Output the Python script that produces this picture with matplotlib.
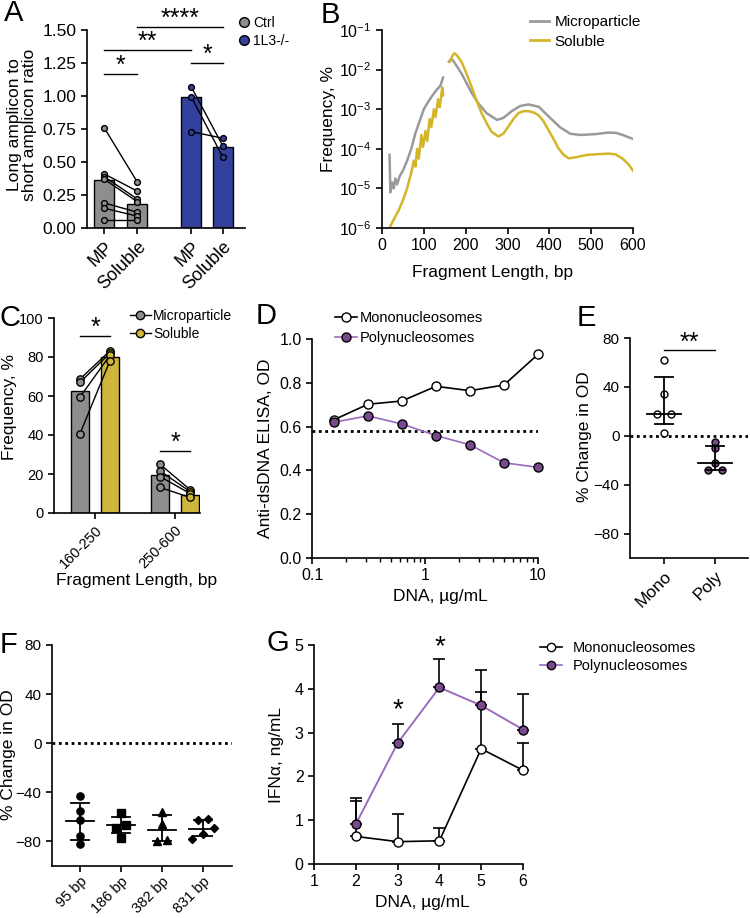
import numpy as np
import matplotlib.pyplot as plt
from matplotlib.lines import Line2D
from matplotlib.ticker import FormatStrFormatter, LogLocator, NullFormatter, NullLocator

plt.rcParams['font.family'] = ['Liberation Sans', 'DejaVu Sans']
plt.rcParams['font.size'] = 11
plt.rcParams['axes.linewidth'] = 1.2
plt.rcParams['xtick.major.width'] = 1.2
plt.rcParams['ytick.major.width'] = 1.2
plt.rcParams['xtick.major.size'] = 4
plt.rcParams['ytick.major.size'] = 4
plt.rcParams['xtick.labelsize'] = 11
plt.rcParams['ytick.labelsize'] = 11
plt.rcParams['mathtext.default'] = 'regular'

#colours
gray = '#8e8e8e'
blue = '#33409c'
yellow = '#cfb53b'
bgray = '#9a9a9a'
byellow = '#d4b52a'
purple = '#7a4a8f'
purple_line = '#9b6bbf'

# ---- A: long/short amplicon ratio ----
a_labels = ['MP', 'Soluble', 'MP', 'Soluble']
a_bar = [0.36, 0.18, 0.995, 0.615]
a_ctrl_mp = [0.76, 0.41, 0.39, 0.37, 0.19, 0.15, 0.06]
a_ctrl_sol = [0.35, 0.28, 0.22, 0.20, 0.12, 0.09, 0.06]
a_ko_mp = [1.07, 0.995, 0.73]
a_ko_sol = [0.62, 0.535, 0.68]

# ---- B: fragment length distribution (log10 of frequency) ----
b_mp_bp = [18, 20, 24, 28, 32, 36, 42, 50, 60, 70, 80, 90, 100, 110, 120, 130, 140, 146, np.nan,
           160, 166, 175, 190, 200, 215, 230, 250, 275, 290, 310, 330, 350, 375, 400, 425, 450,
           475, 510, 540, 560, 575, 600]
b_mp_log = [-4.15, -5.1, -4.85, -5.0, -4.75, -4.9, -4.7, -4.55, -4.3, -4.0, -3.6, -3.3, -3.0, -2.82,
            -2.66, -2.52, -2.4, -2.2, np.nan,
            -1.80, -1.72, -1.85, -2.10, -2.3, -2.6, -2.85, -3.1, -3.27, -3.22, -3.05, -2.92, -2.88,
            -2.94, -3.2, -3.45, -3.62, -3.65, -3.63, -3.59, -3.6, -3.65, -3.75]
b_sol_bp = [20, 30, 40, 50, 60, 70, 76, 80, 84, 88, 94, 98, 104, 108, 114, 118, 124, 128, 134, 138,
            144, 146, np.nan,
            162, 170, 174, 180, 190, 200, 214, 226, 238, 250, 262, 278, 290, 302, 314, 326, 338,
            350, 362, 374, 386, 398, 410, 422, 434, 446, 460, 478, 494, 510, 526, 542, 558, 574,
            590, 600]
b_sol_log = [-5.95, -5.75, -5.55, -5.30, -5.0, -4.6, -4.3, -4.45, -4.0, -4.25, -3.65, -3.95, -3.55,
             -3.8, -3.25, -3.45, -3.0, -3.2, -2.75, -2.95, -2.45, -2.65, np.nan,
             -1.80, -1.62, -1.59, -1.65, -1.80, -2.05, -2.43, -2.78, -3.10, -3.35, -3.57, -3.69,
             -3.62, -3.44, -3.25, -3.10, -3.05, -3.05, -3.08, -3.15, -3.3, -3.53, -3.75, -3.99,
             -4.15, -4.24, -4.22, -4.18, -4.15, -4.14, -4.13, -4.12, -4.14, -4.24, -4.4, -4.55]

# ---- C: fraction by size range ----
c_labels = ['160-250', '250-600']
c_mp_bar = [62.5, 19.5]
c_sol_bar = [80, 9]
c_mp_pts = [[68.7, 67, 59.5, 40.7], [25, 21.6, 18.7, 13.1]]
c_sol_pts = [[83.2, 82, 80.9, 78.1], [12, 11, 10, 8]]

# ---- D: anti-dsDNA ELISA ----
d_dna = [0.156, 0.3125, 0.625, 1.25, 2.5, 5, 10]
d_mono = [0.631, 0.702, 0.717, 0.784, 0.764, 0.790, 0.93]
d_poly = [0.62, 0.649, 0.612, 0.559, 0.517, 0.435, 0.414]
d_cutoff = 0.58

# ---- E: % change in OD ----
e_labels = ['Mono', 'Poly']
e_mono = [62, 34, 18, 18, 2]
e_poly = [-5, -10, -22, -28, -28]
e_center = [18, -22]
e_lo = [10, -28]
e_hi = [48, -8]

# ---- F: % change in OD by fragment ----
f_labels = ['95 bp', '186 bp', '382 bp', '831 bp']
f_vals = [[-42.7, -55.2, -62.9, -75.6, -81.9],
          [-56.6, -67, -68.8, -77.3],
          [-56, -65.6, -79.7, -79.2],
          [-61.5, -62.9, -69, -73.7, -77.8]]
f_center = [-63, -67, -70.5, -70]
f_lo = [-78.6, -73, -80, -75.6]
f_hi = [-49, -60, -58.8, -62.3]
f_markers = ['o', 's', '^', 'D']

# ---- G: IFNa ----
g_dna = [2, 3, 4, 5, 6]
g_mono = [0.63, 0.51, 0.53, 2.63, 2.14]
g_mono_err = [0.81, 0.64, 0.29, 1.30, 0.63]
g_poly = [0.91, 2.76, 4.03, 3.62, 3.07]
g_poly_err = [0.59, 0.43, 0.64, 0.81, 0.81]

W, H = 750, 918
fig = plt.figure(figsize=(W / 100, H / 100), dpi=100)


def box(x0, y0, x1, y1):
    return [x0 / W, 1 - y1 / H, (x1 - x0) / W, (y1 - y0) / H]


def clean(ax):
    ax.spines['top'].set_visible(False)
    ax.spines['right'].set_visible(False)


def ftext(x, y, s, **kw):
    fig.text(x / W, 1 - y / H, s, **kw)


def bracket(ax, x0, x1, y, s):
    ax.plot([x0, x1], [y, y], color='k', lw=1, clip_on=False)
    ax.annotate(s, ((x0 + x1) / 2, y), xytext=(0, -3), textcoords='offset points',
                ha='center', va='bottom', fontsize=18, annotation_clip=False)


def spread(vals, dy, dx):
    #simple beeswarm: points closer than dy get spread sideways
    vals = np.asarray(vals, dtype=float)
    order = np.argsort(vals)
    offs = np.zeros(len(vals))
    groups = [[order[0]]]
    for i in order[1:]:
        if vals[i] - vals[groups[-1][-1]] < dy:
            groups[-1].append(i)
        else:
            groups.append([i])
    for g in groups:
        for j, i in enumerate(g):
            offs[i] = (j - (len(g) - 1) / 2) * dx
    return offs


def legend(ax, handles, labels, x, y, hl, htp, ls, fs=10):
    ax.legend(handles, labels, loc='center left', bbox_to_anchor=(x / W, 1 - y / H),
              bbox_transform=fig.transFigure, frameon=False, handlelength=hl,
              handletextpad=htp, labelspacing=ls, borderpad=0, borderaxespad=0, fontsize=fs)


#%% A
ax = fig.add_axes(box(87, 30, 245, 228))
a_pos = [0, 1, 2.64, 3.6]
ax.bar(a_pos, a_bar, width=0.6, color=[gray, gray, blue, blue], edgecolor='k', lw=1, zorder=1)
for x0, x1, mp, sol, c in [(a_pos[0], a_pos[1], a_ctrl_mp, a_ctrl_sol, gray),
                           (a_pos[2], a_pos[3], a_ko_mp, a_ko_sol, blue)]:
    for m, s in zip(mp, sol):
        ax.plot([x0, x1], [m, s], color='k', lw=1, marker='o', ms=4.2, mfc=c, mec='k', mew=1, zorder=3)
ax.set_xlim(-0.52, 4.27)
ax.set_ylim(0, 1.5)
ax.set_yticks(np.arange(0, 1.51, 0.25))
ax.yaxis.set_major_formatter(FormatStrFormatter('%.2f'))
ax.set_xticks(a_pos)
ax.set_xticklabels(a_labels, rotation=45, ha='right', rotation_mode='anchor', fontsize=13)
ax.tick_params(axis='y', labelsize=12.5)
clean(ax)
bracket(ax, a_pos[0], a_pos[1], 1.17, '*')
bracket(ax, a_pos[0], a_pos[2], 1.35, '**')
bracket(ax, a_pos[1], a_pos[3], 1.525, '****')
bracket(ax, a_pos[2], a_pos[3], 1.25, '*')
hs = [Line2D([], [], ls='none', marker='o', ms=7, mfc=c, mec='k') for c in (gray, blue)]
legend(ax, hs, ['Ctrl', '1L3-/-'], 238, 32, 0.8, 0.3, 0.3)
ftext(22, 125, 'Long amplicon to\nshort amplicon ratio', rotation=90, ha='center', va='center',
      fontsize=12.5, linespacing=1.0)

#%% B
ax = fig.add_axes(box(382, 30, 633, 228))
ax.plot(b_mp_bp, 10 ** np.array(b_mp_log), color=bgray, lw=1.8)
ax.plot(b_sol_bp, 10 ** np.array(b_sol_log), color=byellow, lw=1.8)
ax.set_yscale('log')
ax.set_ylim(1e-6, 1e-1)
ax.set_xlim(0, 600)
ax.set_xticks(range(0, 601, 100))
ax.set_yticks([1e-6, 1e-5, 1e-4, 1e-3, 1e-2, 1e-1])
ax.yaxis.set_minor_locator(NullLocator())
ax.tick_params(labelsize=11.5)
clean(ax)
hs = [Line2D([], [], color=c, lw=2) for c in (bgray, byellow)]
legend(ax, hs, ['Microparticle', 'Soluble'], 530, 32, 1.25, 0.35, 0.35, fs=11)
ftext(329, 119, 'Frequency, %', rotation=90, ha='center', va='center', fontsize=12.5)
ftext(493, 273, 'Fragment Length, bp', ha='center', va='center', fontsize=12.5)

#%% C
ax = fig.add_axes(box(54, 318, 200, 513))
c_pos = np.array([0, 2.667])
ax.bar(c_pos - 0.5, c_mp_bar, width=0.63, color=gray, edgecolor='k', lw=1, zorder=1)
ax.bar(c_pos + 0.5, c_sol_bar, width=0.63, color=yellow, edgecolor='k', lw=1, zorder=1)
for i, c in enumerate(c_pos):
    for m, s in zip(c_mp_pts[i], c_sol_pts[i]):
        ax.plot([c - 0.5], [m], ls='none', marker='o', ms=5.3, mfc=gray, mec='k', zorder=3)
        ax.plot([c + 0.5], [s], ls='none', marker='o', ms=5.3, mfc=yellow, mec='k', zorder=3)
        ax.plot([c - 0.5, c + 0.5], [m, s], color='k', lw=1, zorder=2)
ax.set_xlim(-1.367, 3.5)
ax.set_ylim(0, 100)
ax.set_yticks(range(0, 101, 20))
ax.set_xticks(c_pos)
ax.set_xticklabels(c_labels, rotation=45, ha='right', rotation_mode='anchor', fontsize=10.5)
ax.tick_params(axis='y', labelsize=10.5)
clean(ax)
bracket(ax, c_pos[0] - 0.5, c_pos[0] + 0.5, 91, '*')
bracket(ax, c_pos[1] - 0.5, c_pos[1] + 0.5, 32, '*')
hs = [Line2D([], [], color='k', lw=1, marker='o', ms=6, mfc=c, mec='k') for c in (gray, yellow)]
legend(ax, hs, ['Microparticle', 'Soluble'], 130, 325, 1.5, 0.15, 0.3)
ftext(10, 407, 'Frequency, %', rotation=90, ha='center', va='center', fontsize=12.5)
ftext(137, 581, 'Fragment Length, bp', ha='center', va='center', fontsize=12.5)

#%% D
ax = fig.add_axes(box(312, 339, 538, 558))
ax.axhline(d_cutoff, color='k', ls=(0, (1, 1.3)), lw=2, zorder=1)
ax.plot(d_dna, d_mono, color='k', lw=1.2, marker='o', ms=6.5, mfc='white', mec='k', clip_on=False, zorder=3)
ax.plot(d_dna, d_poly, color=purple_line, lw=1.2, marker='o', ms=6.5, mfc=purple, mec='k',
        clip_on=False, zorder=3)
ax.set_xscale('log')
ax.set_xlim(0.1, 10)
ax.set_ylim(0, 1.0)
ax.set_yticks(np.arange(0, 1.01, 0.2))
ax.yaxis.set_major_formatter(FormatStrFormatter('%.1f'))
ax.set_xticks([0.1, 1, 10])
ax.set_xticklabels(['0.1', '1', '10'])
ax.xaxis.set_minor_locator(LogLocator(subs=np.arange(2, 10)))
ax.xaxis.set_minor_formatter(NullFormatter())
ax.tick_params(axis='x', which='minor', length=3, width=1)
ax.tick_params(axis='both', which='major', labelsize=11.5)
clean(ax)
hs = [Line2D([], [], color='k', lw=1.2, marker='o', ms=6.5, mfc='white', mec='k'),
      Line2D([], [], color=purple_line, lw=1.2, marker='o', ms=6.5, mfc=purple, mec='k')]
legend(ax, hs, ['Mononucleosomes', 'Polynucleosomes'], 335, 328, 1.5, 0.2, 0.4, fs=10.5)
ftext(266, 448, 'Anti-dsDNA ELISA, OD', rotation=90, ha='center', va='center', fontsize=12.5)
ftext(440, 597, 'DNA, µg/mL', ha='center', va='center', fontsize=12.5)

#%% E
ax = fig.add_axes(box(630, 338, 748, 558))
ax.axhline(0, color='k', ls=(0, (1, 1.3)), lw=2, zorder=1)
for i, (vals, fc) in enumerate([(e_mono, 'white'), (e_poly, purple)]):
    offs = spread(vals, 4.5, 0.26)
    ax.plot(i + offs, vals, ls='none', marker='o', ms=5, mfc=fc, mec='k', zorder=3)
    ax.plot([i - 0.33, i + 0.33], [e_center[i]] * 2, color='k', lw=1.3, zorder=4)
    ax.plot([i, i], [e_lo[i], e_hi[i]], color='k', lw=1.3, zorder=4)
    for v in (e_lo[i], e_hi[i]):
        ax.plot([i - 0.17, i + 0.17], [v, v], color='k', lw=1.3, zorder=4)
ax.set_xlim(-0.667, 1.647)
ax.set_ylim(-100, 80)
ax.set_yticks([-80, -40, 0, 40, 80])
ax.set_xticks([0, 1])
ax.set_xticklabels(e_labels, rotation=45, ha='right', rotation_mode='anchor', fontsize=12.5)
clean(ax)
bracket(ax, 0, 1, 70, '**')
ftext(585, 437, '% Change in OD', rotation=90, ha='center', va='center', fontsize=12.5)

#%% F
ax = fig.add_axes(box(52, 645, 232, 866))
ax.axhline(0, color='k', ls=(0, (1, 1.3)), lw=2, zorder=1)
for i, vals in enumerate(f_vals):
    offs = spread(vals, 5, 0.26)
    ms = 4.3 if f_markers[i] == 'D' else 5.2
    ax.plot(i + offs, vals, ls='none', marker=f_markers[i], ms=ms, color='k', zorder=3)
    ax.plot([i - 0.34, i + 0.34], [f_center[i]] * 2, color='k', lw=1.3, zorder=4)
    ax.plot([i, i], [f_lo[i], f_hi[i]], color='k', lw=1.3, zorder=4)
    for v in (f_lo[i], f_hi[i]):
        ax.plot([i - 0.21, i + 0.21], [v, v], color='k', lw=1.3, zorder=4)
ax.set_xlim(-0.683, 3.707)
ax.set_ylim(-100, 80)
ax.set_yticks([-80, -40, 0, 40, 80])
ax.set_xticks(range(len(f_labels)))
ax.set_xticklabels(f_labels, rotation=45, ha='right', rotation_mode='anchor', fontsize=10.5)
ax.tick_params(axis='x', pad=2)
clean(ax)
ftext(9, 755, '% Change in OD', rotation=90, ha='center', va='center', fontsize=12.5)

#%% G
ax = fig.add_axes(box(314, 645, 523, 864))
z = np.zeros(len(g_dna))
ax.errorbar(g_dna, g_mono, yerr=[z, g_mono_err], fmt='none', ecolor='k', elinewidth=1.2,
            capsize=4, capthick=1.2, zorder=2, clip_on=False)
ax.errorbar(g_dna, g_poly, yerr=[z, g_poly_err], fmt='none', ecolor='k', elinewidth=1.2,
            capsize=4, capthick=1.2, zorder=2, clip_on=False)
ax.plot(g_dna, g_mono, color='k', lw=1.2, marker='o', ms=6.5, mfc='white', mec='k', zorder=3,
        clip_on=False)
ax.plot(g_dna, g_poly, color=purple_line, lw=1.4, marker='o', ms=6.5, mfc=purple, mec='k', zorder=3,
        clip_on=False)
ax.set_xlim(1, 6)
ax.set_ylim(0, 5)
ax.set_xticks(range(1, 7))
ax.set_yticks(range(0, 6))
ax.tick_params(labelsize=11.5)
clean(ax)
ax.text(3, 3.5, '*', ha='center', va='center', fontsize=20, clip_on=False)
ax.text(4, 4.95, '*', ha='center', va='center', fontsize=20, clip_on=False)
hs = [Line2D([], [], color='k', lw=1.2, marker='o', ms=6, mfc='white', mec='k'),
      Line2D([], [], color=purple_line, lw=1.2, marker='o', ms=6, mfc=purple, mec='k')]
legend(ax, hs, ['Mononucleosomes', 'Polynucleosomes'], 540, 657, 1.5, 0.75, 0.3, fs=10.5)
ftext(276, 755, 'IFNα, ng/mL', rotation=90, ha='center', va='center', fontsize=12.5)
ftext(422, 903, 'DNA, µg/mL', ha='center', va='center', fontsize=12.5)

#panel letters
for s, x, y in [('A', 14, 13), ('B', 330, 15), ('C', 10, 318), ('D', 266, 316),
                ('E', 586, 318), ('F', 9, 645), ('G', 278, 643)]:
    ftext(x, y, s, ha='center', va='center', fontsize=21)

fig.savefig('out.png', dpi=100)
